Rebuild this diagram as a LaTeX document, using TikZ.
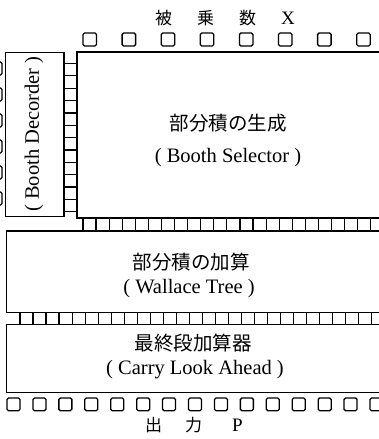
\documentclass[tikz,border=0pt]{standalone}
\usepackage{fontspec}
\setmainfont{Liberation Serif}
\newfontfamily\jp{Noto Sans CJK JP}
\begin{document}
\begin{tikzpicture}[x=1pt,y=-1pt,
  blk/.style={draw, line width=1.3pt},
  wire/.style={draw, line width=1.2pt},
  pin/.style={draw, line width=1.3pt, rounded corners=1.5pt},
  lab/.style={font=\fontsize{20.5}{24}\selectfont, inner sep=0pt},
  jlab/.style={font=\jp\fontsize{19.5}{24}\selectfont, inner sep=0pt},
  jtitle/.style={font=\jp\fontsize{17}{20}\selectfont, inner sep=0pt}]
\useasboundingbox (0,0) rectangle (379,439);
\fill[white] (0,0) rectangle (379,439);
\clip (0,0) rectangle (379,439);
% title
\node[jtitle] (title) at (225,18) {被\hspace{25pt}乗\hspace{25pt}数\hspace{25pt}{\rmfamily\fontsize{19}{20}\selectfont X}};
% input pins
\foreach \i in {0,...,7} \draw[pin] ({83+39.1*\i},33) rectangle ++(13.5,13);
% partially visible pins at left edge
\foreach \i in {0,...,5} \draw[pin] (-11,{62+26*\i}) rectangle ++(13,13);
% boxes
\draw[blk] (5.5,52.5) rectangle (64,216.7);
\draw[blk] (77,52) rectangle (395,218);
\draw[blk] (6.5,231) rectangle (395,312.7);
\draw[blk] (6.5,324.3) rectangle (395,392.7);
% ladders
\foreach \i in {0,...,12} \draw[wire] (64,{63.5+12.35*\i}) -- (77,{63.5+12.35*\i});
\foreach \i in {0,...,22} \draw[wire] ({83+13.08*\i},218) -- ({83+13.08*\i},231);
\foreach \i in {0,...,27} \draw[wire] ({20+13.03*\i},312.7) -- ({20+13.03*\i},324.3);
% output pins
\foreach \i in {0,...,14} \draw[pin] ({7+25.93*\i},398) rectangle ++(13,12.7);
% labels
\node[lab, rotate=90] (bd) at (34,134) {( Booth Decorder )};
\node[jlab] (ppg) at (228,123) {部分積の生成};
\node[lab] (bs) at (228,158) {( Booth Selector )};
\node[jlab] (ppa) at (191,262) {部分積の加算};
\node[lab] (wt) at (189,289) {( Wallace Tree )};
\node[jlab] (fa) at (193,343) {最終段加算器};
\node[lab] (cla) at (195,370) {( Carry Look Ahead )};
\node[jtitle] (out) at (194,425) {出\hspace{23pt}力\hspace{30pt}{\rmfamily\fontsize{19}{20}\selectfont P}};
\end{tikzpicture}
\end{document}
